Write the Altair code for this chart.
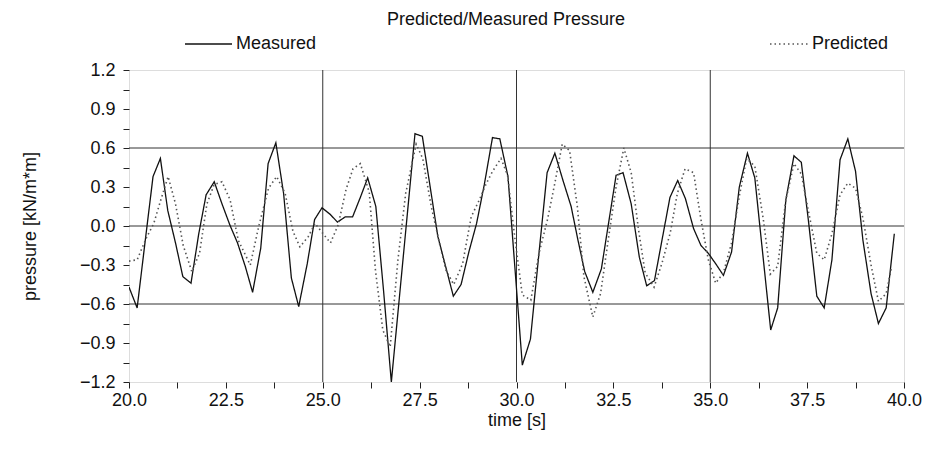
import altair as alt
import pandas as pd

# ---- data ----
measured_t = [20.0, 20.21, 20.42, 20.62, 20.81, 21.0, 21.2, 21.39, 21.6, 21.8, 21.99, 22.2, 22.4, 22.6, 22.8,
              23.0, 23.19, 23.4, 23.59, 23.79, 23.99, 24.19, 24.38, 24.6, 24.79, 24.98, 25.19, 25.38, 25.58,
              25.77, 25.97, 26.16, 26.37, 26.57, 26.77, 27.38, 27.57, 27.97, 28.17, 28.37, 28.57, 28.77,
              28.97, 29.17, 29.38, 29.57, 29.78, 30.15, 30.36, 30.58, 30.79, 30.99, 31.2, 31.41, 31.58,
              31.76, 31.97, 32.19, 32.38, 32.57, 32.75, 32.96, 33.17, 33.36, 33.56, 33.76, 33.96, 34.16,
              34.36, 34.57, 34.76, 34.95, 35.14, 35.34, 35.55, 35.75, 35.96, 36.15, 36.35, 36.56, 36.74,
              36.95, 37.16, 37.35, 37.53, 37.75, 37.94, 38.14, 38.35, 38.55, 38.75, 38.94, 39.15, 39.34,
              39.54, 39.75]
measured_v = [-0.47, -0.63, -0.11, 0.38, 0.52, 0.12, -0.13, -0.39, -0.44, -0.06, 0.24, 0.34, 0.17, 0.01, -0.13,
              -0.31, -0.51, -0.17, 0.48, 0.64, 0.25, -0.40, -0.62, -0.29, 0.05, 0.14, 0.09, 0.03, 0.07,
              0.07, 0.22, 0.37, 0.15, -0.50, -1.20, 0.71, 0.69, -0.08, -0.31, -0.54, -0.45, -0.20,
              0.02, 0.32, 0.68, 0.67, 0.38, -1.07, -0.87, -0.21, 0.41, 0.56, 0.35, 0.15, -0.10,
              -0.35, -0.51, -0.33, 0.03, 0.39, 0.41, 0.17, -0.24, -0.46, -0.42, -0.10, 0.22, 0.35,
              0.21, -0.02, -0.15, -0.21, -0.29, -0.38, -0.20, 0.30, 0.56, 0.37, -0.20, -0.80, -0.63,
              0.20, 0.54, 0.49, 0.05, -0.54, -0.63, -0.26, 0.51, 0.67, 0.42, -0.11, -0.52, -0.75,
              -0.63, -0.06]

predicted_t = [20.0, 20.21, 20.45, 20.64, 20.83, 21.01, 21.2, 21.4, 21.62, 21.82, 22.01, 22.2, 22.4, 22.61,
               22.82, 23.13, 23.35, 23.6, 23.81, 24.03, 24.23, 24.41, 24.63, 24.8, 25.01, 25.2, 25.4, 25.6,
               25.78, 25.97, 26.2, 26.36, 26.55, 26.74, 26.94, 27.14, 27.41, 27.58, 27.8, 28.01, 28.18,
               28.38, 28.61, 28.83, 29.04, 29.21, 29.38, 29.6, 29.77, 29.96, 30.15, 30.37, 30.58, 30.8,
               30.99, 31.18, 31.37, 31.57, 31.74, 31.97, 32.17, 32.38, 32.57, 32.77, 32.96, 33.15, 33.32,
               33.55, 33.76, 33.97, 34.15, 34.35, 34.57, 34.76, 34.95, 35.14, 35.34, 35.55, 35.75, 35.94,
               36.15, 36.37, 36.55, 36.74, 36.95, 37.16, 37.35, 37.53, 37.75, 37.94, 38.14, 38.35, 38.55,
               38.75, 38.94, 39.15, 39.34, 39.54, 39.67]
predicted_v = [-0.27, -0.26, -0.09, 0.02, 0.21, 0.38, 0.17, -0.15, -0.35, -0.21, 0.17, 0.32, 0.34, 0.20,
               -0.11, -0.30, 0.00, 0.29, 0.38, 0.25, -0.04, -0.16, -0.08, 0.02, -0.06, -0.13, 0.01, 0.28,
               0.44, 0.48, 0.26, -0.34, -0.80, -0.93, -0.26, 0.25, 0.63, 0.52, 0.15, -0.13, -0.34,
               -0.45, -0.29, 0.07, 0.20, 0.32, 0.42, 0.52, 0.39, -0.10, -0.53, -0.57, -0.21, 0.05,
               0.33, 0.63, 0.58, 0.15, -0.39, -0.70, -0.52, -0.08, 0.30, 0.60, 0.41, -0.03, -0.36,
               -0.47, -0.28, -0.05, 0.25, 0.44, 0.41, 0.05, -0.26, -0.44, -0.36, -0.13, 0.23, 0.52,
               0.46, 0.05, -0.37, -0.31, 0.20, 0.48, 0.40, 0.12, -0.21, -0.26, -0.06, 0.24, 0.33,
               0.29, 0.06, -0.30, -0.58, -0.52, -0.33]

series_names = ["Measured", "Predicted"]
chart_title = ["Predicted/Measured Pressure"]
x_ticks = [20.0, 21.25, 22.5, 23.75, 25.0, 26.25, 27.5, 28.75, 30.0, 31.25, 32.5, 33.75, 35.0,
           36.25, 37.5, 38.75, 40.0]
y_ticks = [-1.2, -1.05, -0.9, -0.75, -0.6, -0.45, -0.3, -0.15, 0.0, 0.15, 0.3, 0.45, 0.6,
           0.75, 0.9, 1.05, 1.2]
grid_x = [25.0, 30.0, 35.0]
grid_y = [-0.6, 0.0, 0.6]

FONT = "Liberation Sans Narrow, Arial Narrow, Liberation Sans, Arial, sans-serif"

df = pd.concat([
    pd.DataFrame({"t": measured_t, "v": measured_v, "series": series_names[0]}),
    pd.DataFrame({"t": predicted_t, "v": predicted_v, "series": series_names[1]}),
])

xscale = alt.Scale(domain=[20, 40], nice=False, zero=False)
yscale = alt.Scale(domain=[-1.2, 1.2], nice=False, zero=False)

x_axis = alt.Axis(values=x_ticks, title="time [s]", grid=False, domain=False,
                  labelExpr="abs(datum.value % 2.5) < 0.001 ? format(datum.value, '.1f') : ''",
                  tickSize=6, tickColor="#222", labelPadding=3, labelFont=FONT, labelFontSize=18,
                  labelColor="#111", titleFont=FONT, titleFontSize=18, titleFontWeight="normal",
                  titleColor="#111", titlePadding=2, labelFlush=False, labelOverlap=False)
y_axis = alt.Axis(values=y_ticks, title="pressure [kN/m*m]", grid=False, domain=False,
                  labelExpr="abs(round(datum.value / 0.15)) % 2 == 0 ? format(datum.value, '.1f') : ''",
                  tickSize=6, tickColor="#222", labelPadding=8, labelFont=FONT, labelFontSize=18,
                  labelColor="#111", titleFont=FONT, titleFontSize=18, titleFontWeight="normal",
                  titleColor="#111", titleX=-99, titleY=156, titleAngle=-90, titleAlign="center",
                  titleBaseline="middle", labelFlush=False, labelOverlap=False)

lines = alt.Chart(df).mark_line(clip=True).encode(
    x=alt.X("t:Q", scale=xscale, axis=x_axis),
    y=alt.Y("v:Q", scale=yscale, axis=y_axis),
    color=alt.Color("series:N", scale=alt.Scale(domain=series_names, range=["#111111", "#555555"]),
                    legend=None),
    strokeDash=alt.StrokeDash("series:N", scale=alt.Scale(domain=series_names,
                                                          range=[[1, 0], [1.5, 3]]), legend=None),
    strokeWidth=alt.StrokeWidth("series:N", scale=alt.Scale(domain=series_names, range=[1.3, 1.6]),
                                legend=None),
    order="t:Q",
)

vgrid = alt.Chart(pd.DataFrame({"g": grid_x})).mark_rule(color="#333", strokeWidth=1).encode(
    x=alt.X("g:Q", scale=xscale, axis=x_axis))
hgrid = alt.Chart(pd.DataFrame({"g": grid_y})).mark_rule(color="#333", strokeWidth=1).encode(
    y=alt.Y("g:Q", scale=yscale, axis=y_axis))

title_text = alt.Chart(pd.DataFrame({"label": chart_title})).mark_text(
    align="center", baseline="middle", font=FONT, fontSize=18, color="#111").encode(
    x=alt.value(377), y=alt.value(-50), text="label:N")

leg_m = pd.DataFrame({"label": [series_names[0]]})
leg_p = pd.DataFrame({"label": [series_names[1]]})
leg_y = -26
leg_m_line = alt.Chart(leg_m).mark_rule(color="#111", strokeWidth=1.3).encode(
    x=alt.value(56), x2=alt.value(103), y=alt.value(leg_y))
leg_m_text = alt.Chart(leg_m).mark_text(align="left", baseline="middle", font=FONT, fontSize=18,
                                        color="#111").encode(
    x=alt.value(107), y=alt.value(leg_y), text="label:N")
leg_p_line = alt.Chart(leg_p).mark_rule(color="#555", strokeWidth=1.6, strokeDash=[1.5, 3]).encode(
    x=alt.value(641), x2=alt.value(679), y=alt.value(leg_y))
leg_p_text = alt.Chart(leg_p).mark_text(align="left", baseline="middle", font=FONT, fontSize=18,
                                        color="#111").encode(
    x=alt.value(683), y=alt.value(leg_y), text="label:N")

chart = alt.layer(vgrid, hgrid, lines, title_text, leg_m_line, leg_m_text, leg_p_line,
                  leg_p_text).properties(
    width=775, height=312,
    padding={"left": 121, "top": 62, "right": 18, "bottom": 60},
    autosize=alt.AutoSizeParams(type="none"),
).configure_view(stroke="#222", strokeWidth=1).configure(background="white")

chart.save("out.html", embed_options={"renderer": "svg", "actions": False})
